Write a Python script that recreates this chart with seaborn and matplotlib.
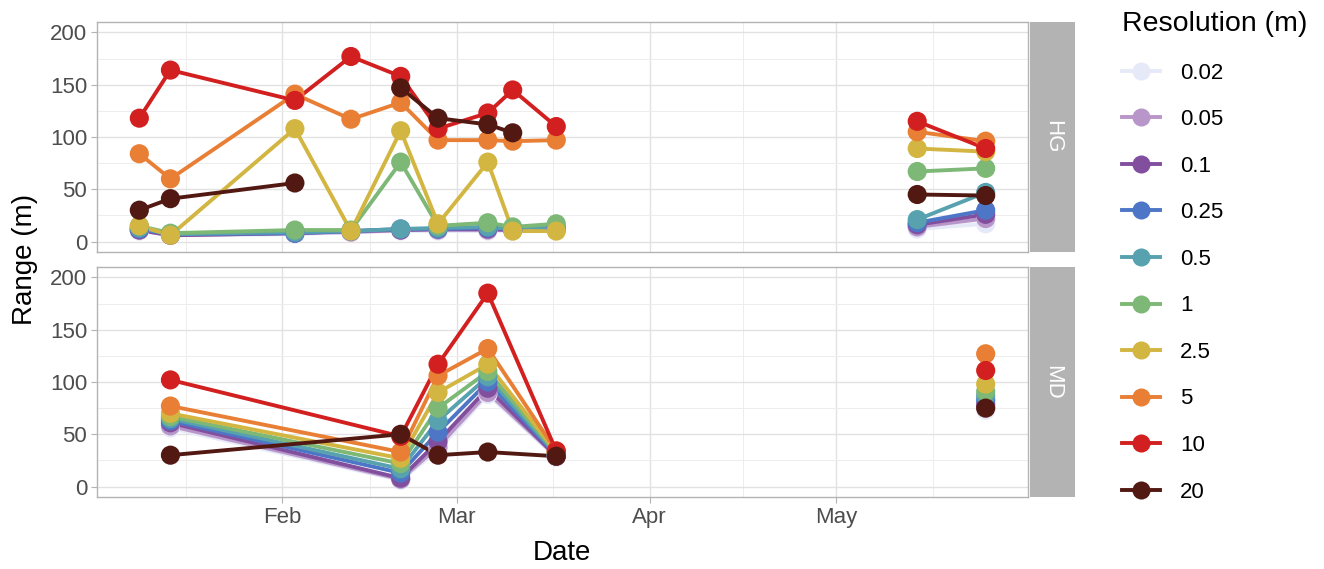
"""Range vs date per site, coloured by raster resolution."""
import numpy as np
import pandas as pd
import matplotlib
matplotlib.use("Agg")
import matplotlib.pyplot as plt
import matplotlib.dates as mdates
from matplotlib.lines import Line2D
import seaborn as sns

# ---- data ----
resolutions = ["0.02", "0.05", "0.1", "0.25", "0.5", "1", "2.5", "5", "10", "20"]
colors = ["#E6E9F8", "#B996C9", "#824F9F", "#4E76C7", "#58A1AE",
          "#7DB876", "#D2B641", "#E87F35", "#D21F1F", "#521812"]

hg_dates = ["2021-01-09", "2021-01-14", "2021-02-03", "2021-02-12", "2021-02-20",
            "2021-02-26", "2021-03-06", "2021-03-10", "2021-03-17",
            "2021-05-14", "2021-05-25"]
hg_campaign = [1, 1, 1, 1, 1, 1, 1, 1, 1, 2, 2]
hg_range = {
    "0.02": [10, 6, 7, 9, 10, 10, 10, 10, 11, 12, 17],
    "0.05": [11, 6, 8, 9, 11, 11, 11, 11, 12, 14, 22],
    "0.1": [11, 6, 8, 10, 11, 12, 12, 11, 12, 16, 26],
    "0.25": [12, 7, 8, 10, 12, 12, 13, 12, 13, 18, 30],
    "0.5": [13, 7, 9, 10, 12, 13, 14, 12, 14, 21, 47],
    "1": [15, 8, 11, 11, 76, 15, 18, 14, 17, 67, 70],
    "2.5": [15, 6, 108, 10, 106, 17, 76, 10, 10, 89, 86],
    "5": [84, 60, 141, 117, 133, 97, 97, 96, 97, 105, 96],
    "10": [118, 164, 135, 177, 158, 108, 123, 145, 110, 115, 89],
    "20": [30, 41, 56, None, 147, 118, 112, 104, None, 45, 44],
}

md_dates = ["2021-01-14", "2021-02-20", "2021-02-26", "2021-03-06", "2021-03-17",
            "2021-05-25"]
md_campaign = [1, 1, 1, 1, 1, 2]
md_range = {
    "0.02": [56, 6, 35, 88, 28, 73],
    "0.05": [58, 7, 38, 90, 29, 76],
    "0.1": [61, 8, 43, 94, 29, 79],
    "0.25": [63, 13, 52, 100, 30, 83],
    "0.5": [65, 17, 63, 105, 31, 87],
    "1": [67, 22, 75, 110, 32, 91],
    "2.5": [70, 27, 90, 117, 33, 98],
    "5": [77, 33, 106, 132, 34, 127],
    "10": [102, 48, 117, 185, 34, 111],
    "20": [30, 50, 30, 33, 29, 75],
}

sites = ["HG", "MD"]


def to_long(site, dates, campaign, values):
    """Long table; a missing value or a new campaign starts a new line segment."""
    rows = []
    for res in resolutions:
        seg, prev = 0, None
        for d, c, v in zip(dates, campaign, values[res]):
            if v is None:
                seg += 1
                prev = None
                continue
            if prev is not None and c != prev:
                seg += 1
            prev = c
            rows.append(dict(site=site, date=pd.Timestamp(d), res=res,
                             range=v, seg=f"{res}-{seg}"))
    return pd.DataFrame(rows)


df = pd.concat([to_long("HG", hg_dates, hg_campaign, hg_range),
                to_long("MD", md_dates, md_campaign, md_range)], ignore_index=True)
df["res"] = pd.Categorical(df["res"], categories=resolutions, ordered=True)
df = df.sort_values(["site", "res", "date"]).reset_index(drop=True)
palette = dict(zip(resolutions, colors))

# ---- figure ----
plt.rcParams["font.family"] = ["Liberation Sans", "DejaVu Sans"]
W, H = 1324, 569
fig = plt.figure(figsize=(W / 100, H / 100), dpi=100)

panel_tops = {"HG": 22, "MD": 267}
panel_h = 230
x0 = pd.Timestamp(hg_dates[0])
x1 = pd.Timestamp(hg_dates[-1])
pad = (x1 - x0) * 0.05
month_starts = pd.date_range("2021-01-01", "2021-06-01", freq="MS")
mid_months = [a + (b - a) / 2 for a, b in zip(month_starts[:-1], month_starts[1:])]

GREY70 = "#B3B3B3"
LW = 2.8
for site in sites:
    top = panel_tops[site]
    ax = fig.add_axes([97 / W, 1 - (top + panel_h) / H, 931 / W, panel_h / H])
    d = df[df["site"] == site]
    sns.lineplot(data=d, x="date", y="range", hue="res", hue_order=resolutions,
                 palette=palette, units="seg", estimator=None, linewidth=LW,
                 legend=False, ax=ax, zorder=3)
    sns.scatterplot(data=d, x="date", y="range", hue="res", hue_order=resolutions,
                    palette=palette, s=190, edgecolor="none", linewidth=0,
                    legend=False, ax=ax, zorder=4)

    ax.set_xlim(x0 - pad, x1 + pad)
    ax.set_ylim(-10, 210)
    ax.set_yticks([0, 50, 100, 150, 200])
    ax.set_yticks([25, 75, 125, 175], minor=True)
    ax.xaxis.set_major_locator(mdates.MonthLocator(bymonthday=1))
    ax.xaxis.set_major_formatter(mdates.DateFormatter("%b"))
    ax.set_xticks(mdates.date2num(mid_months), minor=True)
    ax.set_axisbelow(True)
    ax.grid(which="major", color="#E2E2E2", linewidth=1.0)
    ax.grid(which="minor", color="#EDEDED", linewidth=0.7)
    ax.tick_params(which="minor", length=0)
    ax.tick_params(which="major", length=4, width=0.8, color=GREY70,
                   labelsize=16, labelcolor="#4D4D4D", pad=3)
    if site == "HG":
        ax.tick_params(axis="x", length=0, labelbottom=False)
    for s in ax.spines.values():
        s.set_color(GREY70)
        s.set_linewidth(1.0)
    ax.set_facecolor("white")
    ax.set_xlabel("")
    ax.set_ylabel("")

    # facet strip on the right
    sax = fig.add_axes([1030 / W, 1 - (top + panel_h) / H, 45 / W, panel_h / H])
    sax.set_facecolor(GREY70)
    sax.set_xticks([])
    sax.set_yticks([])
    for s in sax.spines.values():
        s.set_visible(False)
    sax.text(0.5, 0.5, site, rotation=-90, color="white", fontsize=16,
             ha="center", va="center", transform=sax.transAxes)

fig.text(562 / W, 1 - 553 / H, "Date", fontsize=20, ha="center", va="center")
fig.text(25 / W, 1 - 259 / H, "Range (m)", fontsize=20, rotation=90,
         ha="center", va="center")

handles = [Line2D([], [], color=c, linewidth=LW, marker="o", markersize=13,
                  markeredgewidth=0) for c in colors]
fig.legend(handles, resolutions, title="Resolution (m)", loc="upper left",
           bbox_to_anchor=(1122 / W, 1 - 11 / H), frameon=False, fontsize=16,
           title_fontsize=20.5, handlelength=1.7, handletextpad=0.9,
           labelspacing=1.15, alignment="left", borderaxespad=0, borderpad=0)

fig.savefig("out.png", dpi=100)
plt.close(fig)
